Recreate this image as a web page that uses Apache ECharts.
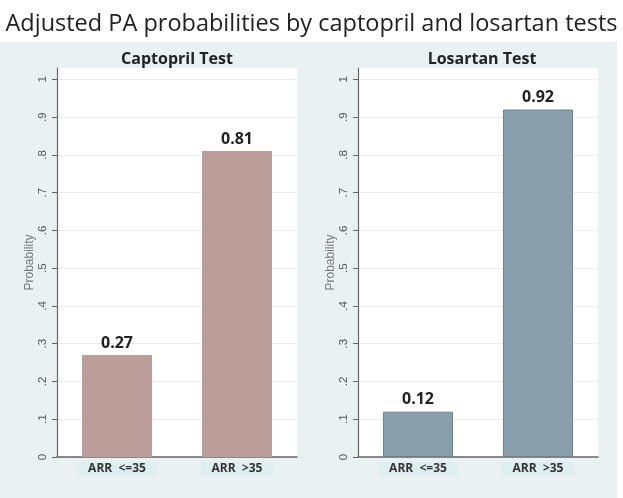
<!DOCTYPE html>
<html>
<head>
<meta charset="utf-8">
<script src="https://cdn.jsdelivr.net/npm/echarts@6/dist/echarts.min.js"></script>
<style>
html,body{margin:0;padding:0;background:#fff;}
#c{width:623px;height:498px;}
</style>
</head>
<body>
<div id="c"></div>
<script>
var mainTitle = 'Adjusted PA probabilities by captopril and losartan tests';
var panelTitles = ['Captopril Test', 'Losartan Test'];
var categories = ['ARR  <=35', 'ARR  >35'];
var captoprilValues = [0.27, 0.81];
var losartanValues = [0.12, 0.92];
var tickValues = [0, 0.1, 0.2, 0.3, 0.4, 0.5, 0.6, 0.7, 0.8, 0.9, 1];
var yName = 'Probability';

var chart = echarts.init(document.getElementById('c'), null, {renderer: 'canvas'});

function fmtTick(v) {
  var r = Math.round(v * 10);
  if (Math.abs(v * 10 - r) > 1e-6) return '';
  if (r === 0) return '0';
  if (r === 10) return '1';
  return '.' + r;
}

function yAxis(idx) {
  return {
    type: 'value', gridIndex: idx, min: 0, max: 1.03, interval: 0.1,
    name: yName, nameLocation: 'middle', nameGap: 21, nameRotate: 90,
    nameTextStyle: {color: '#777', fontSize: 12, fontFamily: 'Liberation Sans'},
    axisLine: {show: true, lineStyle: {color: '#666', width: 1.2}},
    axisTick: {show: true, length: 5, customValues: tickValues, lineStyle: {color: '#666'}},
    axisLabel: {rotate: 90, margin: 8, color: '#555', fontSize: 11.5, fontFamily: 'Liberation Sans',
      customValues: tickValues, formatter: fmtTick},
    splitLine: {show: true, lineStyle: {color: '#ececec', width: 1}}
  };
}
function xAxis(idx) {
  return {
    type: 'category', gridIndex: idx, data: categories,
    axisLine: {show: true, lineStyle: {color: '#666', width: 1.5}},
    axisTick: {show: false},
    axisLabel: {color: '#333', fontSize: 12, fontWeight: 'bold', fontFamily: 'Open Sans',
      backgroundColor: '#dfeef0', padding: [0, 11, 0, 11], margin: 5, lineHeight: 14}
  };
}
function labelOpt() {
  return {show: true, position: 'top', distance: 4, color: '#222', fontSize: 16, fontWeight: 'bold',
    fontFamily: 'Open Sans', formatter: function (p) { return p.value.toFixed(2); }};
}

chart.setOption({
  backgroundColor: '#ffffff',
  animation: false,
  graphic: [{
    type: 'rect', z: -10, silent: true,
    shape: {x: 0, y: 42, width: 617, height: 456},
    style: {fill: '#e9f1f3'}
  }],
  title: [
    {text: mainTitle, left: 'center', top: 7,
     textStyle: {fontSize: 23.5, fontWeight: 'normal', color: '#222', fontFamily: 'Open Sans'}},
    {text: panelTitles[0], left: 172, textAlign: 'center', top: 46,
     textStyle: {fontSize: 16, fontWeight: 'bold', color: '#222', fontFamily: 'Open Sans'}},
    {text: panelTitles[1], left: 477, textAlign: 'center', top: 46,
     textStyle: {fontSize: 16, fontWeight: 'bold', color: '#222', fontFamily: 'Open Sans'}}
  ],
  grid: [
    {left: 57, width: 240, top: 68, bottom: 41, show: true, backgroundColor: '#ffffff', borderWidth: 0},
    {left: 358, width: 240, top: 68, bottom: 41, show: true, backgroundColor: '#ffffff', borderWidth: 0}
  ],
  xAxis: [xAxis(0), xAxis(1)],
  yAxis: [yAxis(0), yAxis(1)],
  series: [
    {type: 'bar', xAxisIndex: 0, yAxisIndex: 0, data: captoprilValues, barWidth: 70,
     itemStyle: {color: '#bb9e99'}, label: labelOpt()},
    {type: 'bar', xAxisIndex: 1, yAxisIndex: 1, data: losartanValues, barWidth: 70,
     itemStyle: {color: '#8a9fac', borderColor: '#6d8291', borderWidth: 1}, label: labelOpt()}
  ]
});
</script>
</body>
</html>
